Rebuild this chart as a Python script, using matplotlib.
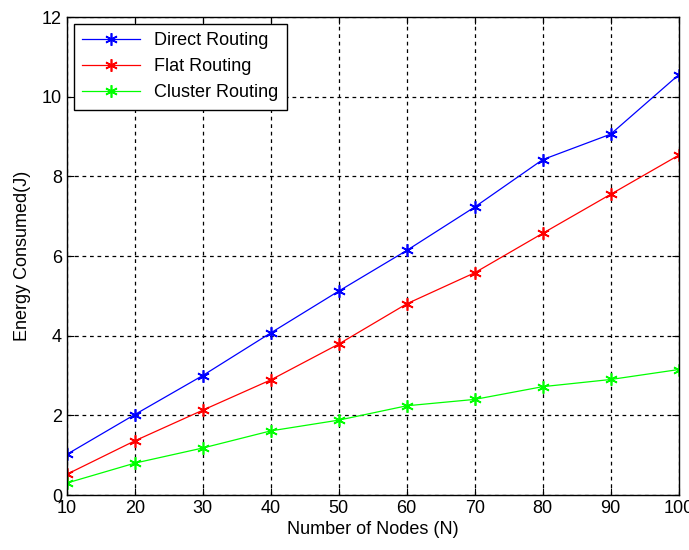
import matplotlib
matplotlib.use("Agg")
import matplotlib.pyplot as plt

plt.rcParams['font.family'] = ['Liberation Sans', 'DejaVu Sans']

nodes = [10, 20, 30, 40, 50, 60, 70, 80, 90, 100]
direct = [1.02, 2.02, 3.0, 4.07, 5.12, 6.14, 7.23, 8.42, 9.06, 10.55]
flat = [0.52, 1.36, 2.13, 2.89, 3.79, 4.80, 5.58, 6.57, 7.55, 8.53]
cluster = [0.30, 0.80, 1.18, 1.61, 1.88, 2.24, 2.40, 2.72, 2.90, 3.15]

fig = plt.figure(figsize=(6.89, 5.5), dpi=100)
ax = fig.add_axes([0.097, 0.1, 0.888, 0.869])

ast = (6, 2, 0)
ax.plot(nodes, direct, color='#0000ff', marker=ast, markersize=9, mew=1.2, lw=0.9, label='Direct Routing')
ax.plot(nodes, flat, color='#ff0000', marker=ast, markersize=9, mew=1.2, lw=0.9, label='Flat Routing')
ax.plot(nodes, cluster, color='#00ff00', marker=ast, markersize=9, mew=1.2, lw=0.9, label='Cluster Routing')

ax.set_xlim(10, 100)
ax.set_ylim(0, 12)
ax.set_xticks(nodes)
ax.set_yticks([0, 2, 4, 6, 8, 10, 12])
ax.grid(True, color='black', linestyle=(0, (3, 3)), linewidth=0.9)
ax.tick_params(direction='in', top=True, right=True, labelsize=13, length=5)
for s in ax.spines.values():
    s.set_linewidth(1.0)
ax.set_xlabel('Number of Nodes (N)', fontsize=13, labelpad=3)
ax.set_ylabel('Energy Consumed(J)', fontsize=13, labelpad=8)

leg = ax.legend(loc='upper left', fontsize=13, fancybox=False, edgecolor='black',
                framealpha=1, borderaxespad=0.4, handlelength=3.2, labelspacing=0.5,
                borderpad=0.45)
leg.get_frame().set_linewidth(1.0)

fig.savefig('out.png', dpi=100)
